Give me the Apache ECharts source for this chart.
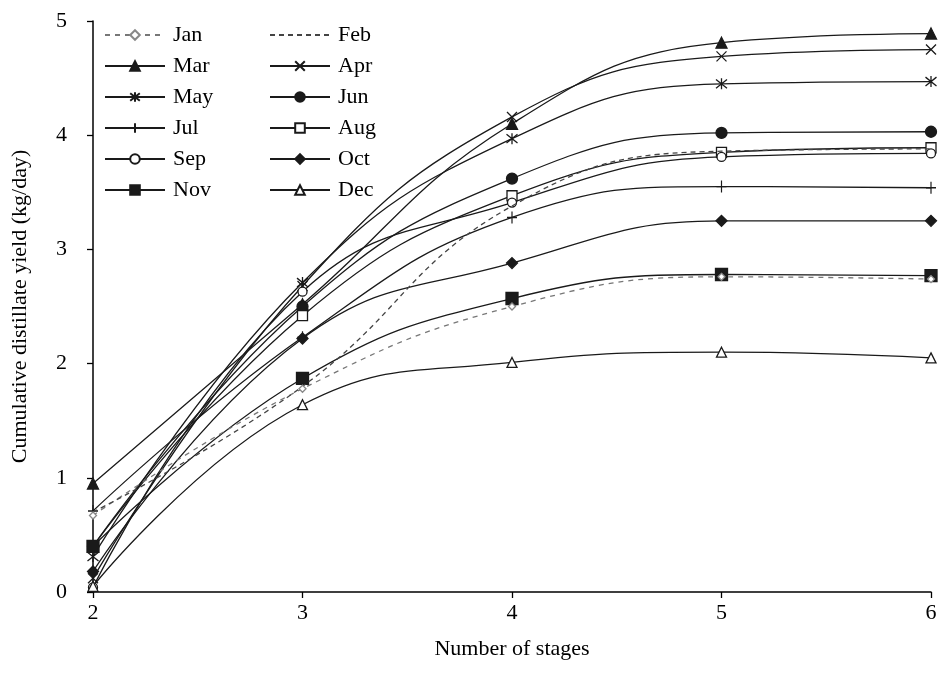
<!DOCTYPE html>
<html>
<head>
<meta charset="utf-8">
<script src="https://cdn.jsdelivr.net/npm/echarts@6/dist/echarts.min.js"></script>
<style>html,body{margin:0;padding:0;background:#fff}#c{width:940px;height:691px}</style>
</head>
<body>
<div id="c"></div>
<script>
var stages = [2, 3, 4, 5, 6];
var yTicks = [0, 1, 2, 3, 4, 5];
var Jan = [0.67, 1.78, 2.50, 2.76, 2.74];
var Feb = [0.70, 1.80, 3.38, 3.86, 3.88];
var Mar = [0.95, 2.52, 4.10, 4.81, 4.89];
var Apr = [0.12, 2.68, 4.16, 4.69, 4.75];
var May = [0.31, 2.71, 3.97, 4.45, 4.47];
var Jun = [0.40, 2.50, 3.62, 4.02, 4.03];
var Jul = [0.71, 2.23, 3.28, 3.55, 3.54];
var Aug = [0.40, 2.42, 3.47, 3.85, 3.89];
var Sep = [0.04, 2.63, 3.41, 3.81, 3.84];
var Oct = [0.18, 2.22, 2.88, 3.25, 3.25];
var Nov = [0.40, 1.87, 2.57, 2.78, 2.77];
var Dec = [0.05, 1.64, 2.01, 2.10, 2.05];

var serif = '"Liberation Serif","DejaVu Serif",serif';
var INK = '#1a1a1a';
var CLEAR = 'rgba(0,0,0,0)';
function pts(v){ return stages.map(function(s,i){ return [s, v[i]]; }); }

var defs = [
  {name:'Jan', data:Jan, sym:'diamond', size:7, fill:'#fff', stroke:'#888', dash:[5,5], lc:'#777'},
  {name:'Feb', data:Feb, sym:'circle', size:1, fill:CLEAR, stroke:CLEAR, dash:[5,4], lc:'#444', hide:true},
  {name:'Mar', data:Mar, sym:'triangle', size:11, fill:INK, stroke:INK},
  {name:'Apr', data:Apr, sym:'path://M0,0L10,10M10,0L0,10', size:10, fill:'none', stroke:INK},
  {name:'May', data:May, sym:'path://M0,1L10,9M10,1L0,9M5,0L5,10', size:11, fill:'none', stroke:INK},
  {name:'Jun', data:Jun, sym:'circle', size:11, fill:INK, stroke:INK},
  {name:'Jul', data:Jul, sym:'path://M5,0L5,12M0,6L10,6', size:[10,12], fill:'none', stroke:INK},
  {name:'Aug', data:Aug, sym:'rect', size:10, fill:'#fff', stroke:INK},
  {name:'Sep', data:Sep, sym:'circle', size:9, fill:'#fff', stroke:INK},
  {name:'Oct', data:Oct, sym:'diamond', size:11, fill:INK, stroke:INK},
  {name:'Nov', data:Nov, sym:'rect', size:12, fill:INK, stroke:INK},
  {name:'Dec', data:Dec, sym:'triangle', size:10, fill:'#fff', stroke:INK}
];

var series = defs.map(function(d){
  return {
    name:d.name, type:'line', data:pts(d.data), smooth:0.45,
    symbol:d.sym, symbolSize:d.size, showSymbol:!d.hide,
    lineStyle:{color:d.lc||INK, width:1.3, type:d.dash||'solid'},
    itemStyle:{color:d.fill, borderColor:d.stroke, borderWidth:1.3},
    emphasis:{disabled:true}, animation:false, z: d.dash?3:2
  };
});

var legendBase = {
  orient:'vertical', itemWidth:60, itemHeight:12, itemGap:9, top:19,
  textStyle:{fontFamily:serif, fontSize:22, color:'#000', padding:[0,0,0,3]},
  selectedMode:false, inactiveColor:'#000'
};

var option = {
  backgroundColor:'#fff',
  animation:false,
  grid:{left:93, right:9, top:21, bottom:99, containLabel:false},
  legend:[
    Object.assign({}, legendBase, {left:99, data:['Jan','Mar','May','Jul','Sep','Nov']}),
    Object.assign({}, legendBase, {left:264, data:['Feb','Apr','Jun','Aug','Oct','Dec']})
  ],
  xAxis:{
    type:'value', min:2, max:6, interval:1,
    name:'Number of stages', nameLocation:'middle', nameGap:46,
    nameTextStyle:{fontFamily:serif, fontSize:22, color:'#000'},
    axisLine:{show:true, onZero:false, lineStyle:{color:'#000', width:1.5}},
    axisTick:{show:true, inside:false, length:6, lineStyle:{color:'#000', width:1.3}},
    axisLabel:{fontFamily:serif, fontSize:22, color:'#000', margin:10},
    splitLine:{show:false}
  },
  yAxis:{
    type:'value', min:yTicks[0], max:yTicks[yTicks.length-1], interval:1,
    name:'Cumulative distillate yield (kg/day)', nameLocation:'middle', nameGap:62,
    nameTextStyle:{fontFamily:serif, fontSize:22, color:'#000'},
    axisLine:{show:true, lineStyle:{color:'#000', width:1.5}},
    axisTick:{show:true, inside:false, length:6, lineStyle:{color:'#000', width:1.3}},
    axisLabel:{fontFamily:serif, fontSize:22, color:'#000', margin:26},
    splitLine:{show:false}
  },
  series:series
};
var chart = echarts.init(document.getElementById('c'), null, {renderer:'canvas'});
chart.setOption(option);
</script>
</body>
</html>
